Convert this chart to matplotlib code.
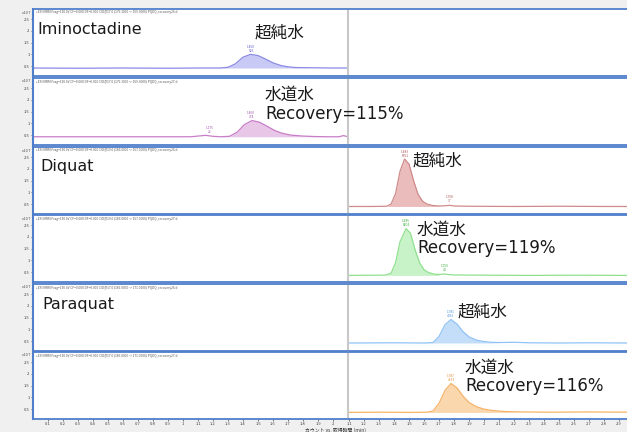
import matplotlib
matplotlib.use("Agg")
import matplotlib.pyplot as plt
import numpy as np

plt.rcParams['font.family'] = ['Noto Sans CJK JP', 'DejaVu Sans']

# ---- data (time in min, counts x10^7) ----
# Iminoctadine (left segment)
imino_pure_t = [0.00, 0.30, 0.60, 0.90, 1.10, 1.25, 1.30, 1.35, 1.40, 1.45, 1.50, 1.55,
                1.60, 1.65, 1.70, 1.75, 1.85, 2.00, 2.10]
imino_pure_y = [0.42, 0.41, 0.42, 0.41, 0.42, 0.42, 0.45, 0.60, 0.88, 1.00, 0.95, 0.80,
                0.64, 0.53, 0.47, 0.44, 0.43, 0.42, 0.42]
imino_tap_t = [0.00, 0.40, 0.80, 1.05, 1.10, 1.15, 1.20, 1.25, 1.31, 1.36, 1.41, 1.46,
               1.51, 1.56, 1.61, 1.66, 1.72, 1.80, 1.88, 1.96, 2.04, 2.07, 2.10]
imino_tap_y = [0.43, 0.43, 0.43, 0.43, 0.46, 0.49, 0.45, 0.43, 0.45, 0.62, 0.95, 1.12,
               1.05, 0.88, 0.70, 0.58, 0.50, 0.46, 0.44, 0.43, 0.43, 0.48, 0.43]

# Diquat (right segment)
diquat_pure_t = [1.10, 1.25, 1.35, 1.38, 1.41, 1.44, 1.47, 1.50, 1.53, 1.56, 1.59, 1.62,
                 1.66, 1.70, 1.74, 1.77, 1.80, 1.90, 2.20, 2.50, 2.80, 2.95]
diquat_pure_y = [0.40, 0.40, 0.41, 0.50, 0.95, 1.90, 2.42, 2.20, 1.50, 0.92, 0.62, 0.50,
                 0.44, 0.42, 0.43, 0.45, 0.42, 0.41, 0.40, 0.41, 0.40, 0.40]
diquat_tap_t = [1.10, 1.25, 1.34, 1.38, 1.41, 1.44, 1.48, 1.51, 1.54, 1.57, 1.60, 1.63,
                1.67, 1.70, 1.73, 1.76, 1.80, 2.00, 2.30, 2.60, 2.95]
diquat_tap_y = [0.36, 0.37, 0.37, 0.45, 0.90, 1.80, 2.35, 2.15, 1.45, 0.90, 0.60, 0.48,
                0.41, 0.40, 0.42, 0.40, 0.38, 0.37, 0.36, 0.37, 0.36]

# Paraquat (right segment)
paraquat_pure_t = [1.10, 1.40, 1.60, 1.66, 1.70, 1.74, 1.78, 1.82, 1.86, 1.90, 1.95, 2.00,
                   2.05, 2.10, 2.20, 2.30, 2.50, 2.70, 2.95]
paraquat_pure_y = [0.42, 0.43, 0.42, 0.44, 0.70, 1.20, 1.42, 1.22, 0.90, 0.68, 0.54, 0.48,
                   0.45, 0.44, 0.45, 0.43, 0.42, 0.43, 0.42]
paraquat_tap_t = [1.10, 1.30, 1.50, 1.62, 1.66, 1.70, 1.74, 1.78, 1.82, 1.86, 1.90, 1.95,
                  2.00, 2.06, 2.13, 2.25, 2.45, 2.70, 2.95]
paraquat_tap_y = [0.36, 0.37, 0.36, 0.37, 0.42, 0.75, 1.30, 1.59, 1.40, 1.05, 0.78, 0.60,
                  0.50, 0.44, 0.40, 0.38, 0.37, 0.38, 0.37]

compounds = ["Iminoctadine", "Diquat", "Paraquat"]
water_labels = ["超純水", "水道水\nRecovery=115%", "超純水", "水道水\nRecovery=119%",
                "超純水", "水道水\nRecovery=116%"]
peak_labels = [[(1.455, "1.460\n526")],
               [(1.175, "1.175\n26"), (1.455, "1.460\n774")],
               [(1.473, "1.483\n8651"), (1.770, "1.768\n37")],
               [(1.480, "1.485\n8204"), (1.735, "1.750\n44")],
               [(1.775, "1.781\n4052")],
               [(1.780, "1.787\n4633")]]
headers = ["+ESI MRM Frag=130.0V CF=0.000 DF=0.000 CID@17.0 (179.1000 -> 159.3000) PQDQ_recovery26.d",
           "+ESI MRM Frag=130.0V CF=0.000 DF=0.000 CID@17.0 (179.1000 -> 159.3000) PQDQ_recovery27.d",
           "+ESI MRM Frag=130.0V CF=0.000 DF=0.000 CID@19.0 (183.0000 -> 157.0000) PQDQ_recovery26.d",
           "+ESI MRM Frag=130.0V CF=0.000 DF=0.000 CID@19.0 (183.0000 -> 157.0000) PQDQ_recovery27.d",
           "+ESI MRM Frag=130.0V CF=0.000 DF=0.000 CID@17.0 (186.0000 -> 171.0000) PQDQ_recovery26.d",
           "+ESI MRM Frag=130.0V CF=0.000 DF=0.000 CID@17.0 (186.0000 -> 171.0000) PQDQ_recovery27.d"]
y_ticks = [0.5, 1, 1.5, 2, 2.5]
y_tick_labels = ["0.5", "1", "1.5", "2", "2.5"]
left_x_ticks = [round(0.1 * i, 1) for i in range(1, 21)]
left_x_labels = ["0.1", "0.2", "0.3", "0.4", "0.5", "0.6", "0.7", "0.8", "0.9", "1",
                 "1.1", "1.2", "1.3", "1.4", "1.5", "1.6", "1.7", "1.8", "1.9", "2"]
right_x_ticks = [round(0.1 * i, 1) for i in range(11, 30)]
right_x_labels = ["1.1", "1.2", "1.3", "1.4", "1.5", "1.6", "1.7", "1.8", "1.9", "2",
                  "2.1", "2.2", "2.3", "2.4", "2.5", "2.6", "2.7", "2.8", "2.9"]

traces = [(imino_pure_t, imino_pure_y, "left", (1.28, 1.78), "#8a8ae6", "#c9c9f5", "#5a5ad0"),
          (imino_tap_t, imino_tap_y, "left", (1.28, 1.90), "#c77dc7", "#e8c6e8", "#a050a8"),
          (diquat_pure_t, diquat_pure_y, "right", (1.36, 1.70), "#cf8a8a", "#ebbcbc", "#b05555"),
          (diquat_tap_t, diquat_tap_y, "right", (1.36, 1.70), "#8fe08f", "#c8f2c8", "#40b040"),
          (paraquat_pure_t, paraquat_pure_y, "right", (1.64, 2.05), "#8fc3f5", "#c4defa", "#4a90d8"),
          (paraquat_tap_t, paraquat_tap_y, "right", (1.62, 2.13), "#f6b26a", "#fad7ac", "#e08a30")]

W, H = 627, 432
fig = plt.figure(figsize=(W / 100, H / 100), dpi=100, facecolor="#f0f0f0")

blue = "#4f7fcb"
row_tops = [9, 78, 147, 215, 284, 352]
row_h = 67
x_left, x_mid = 33, 348
ylim = (0.08, 2.93)

for i, (t, y, side, frange, lc, fc, tc) in enumerate(traces):
    top = row_tops[i]
    b = 1 - (top + row_h) / H
    h = row_h / H
    axl = fig.add_axes([x_left / W, b, (x_mid - x_left) / W, h])
    axr = fig.add_axes([x_mid / W, b, (W - x_mid) / W, h])
    axl.set_xlim(0.0, (x_mid - x_left) / 150)
    axr.set_xlim(1.093, 1.093 + (W - x_mid) / 150)
    for ax in (axl, axr):
        ax.set_ylim(*ylim)
        ax.spines["right"].set_visible(False)
        for s in ("top", "bottom"):
            ax.spines[s].set_color(blue)
            ax.spines[s].set_linewidth(1.3)
    axl.spines["left"].set_color(blue)
    axl.spines["left"].set_linewidth(1.5)
    axr.spines["left"].set_color("#c8c8c8")
    axr.spines["left"].set_linewidth(1.5)
    axr.set_yticks([])
    axl.set_yticks(y_ticks)
    axl.set_yticklabels(y_tick_labels)
    axl.tick_params(axis="y", labelsize=3, length=1.5, width=0.5, pad=1,
                    colors="#444444")
    if i == len(traces) - 1:
        axl.set_xticks(left_x_ticks)
        axl.set_xticklabels(left_x_labels)
        axr.set_xticks(right_x_ticks)
        axr.set_xticklabels(right_x_labels)
        for ax in (axl, axr):
            ax.tick_params(axis="x", labelsize=3, length=1.5, width=0.5, pad=0.8,
                           colors="#444444")
    else:
        axl.set_xticks([])
        axr.set_xticks([])

    ax = axl if side == "left" else axr
    ta = np.array(t)
    ya = np.array(y)
    base = ya[0]
    ax.fill_between(ta, ya, base, where=(ta >= frange[0]) & (ta <= frange[1]),
                    interpolate=True, color=fc, lw=0)
    ax.plot(ta, ya, color=lc, lw=0.9)
    for pt, txt in peak_labels[i]:
        py = np.interp(pt, ta, ya)
        ax.text(pt, py + 0.08, txt, fontsize=2.3, color=tc, ha="center",
                va="bottom", linespacing=1.0)

    # header and exponent
    fig.text(36 / W, 1 - (top + 3.5) / H, headers[i], fontsize=2.3, color="#555555",
             va="center", ha="left")
    fig.text(30 / W, 1 - (top + 3.5) / H, "x10 7", fontsize=2.6, color="#444444",
             va="center", ha="right")

# compound names (left part of each pair of rows)
big_font = ['DejaVu Sans', 'Noto Sans CJK JP']
name_pos = [(37, 30), (40, 167), (42, 305)]
for name, (px, py) in zip(compounds, name_pos):
    fig.text(px / W, 1 - py / H, name, fontsize=11.5, color="#1a1a1a",
             ha="left", va="center", family=big_font)

water_pos = [(255, 33), (265, 104.5), (413, 161), (417, 239), (458, 312), (465, 377)]
for txt, (px, py) in zip(water_labels, water_pos):
    fig.text(px / W, 1 - py / H, txt, fontsize=12, color="#1a1a1a",
             ha="left", va="center", linespacing=1.05, family=big_font)

fig.text(305 / W, 1 - 430.5 / H, "カウント vs. 取得時間 (min)", fontsize=3.5,
         color="#333333", ha="left", va="center")

fig.savefig("out.png", dpi=100, facecolor=fig.get_facecolor())
